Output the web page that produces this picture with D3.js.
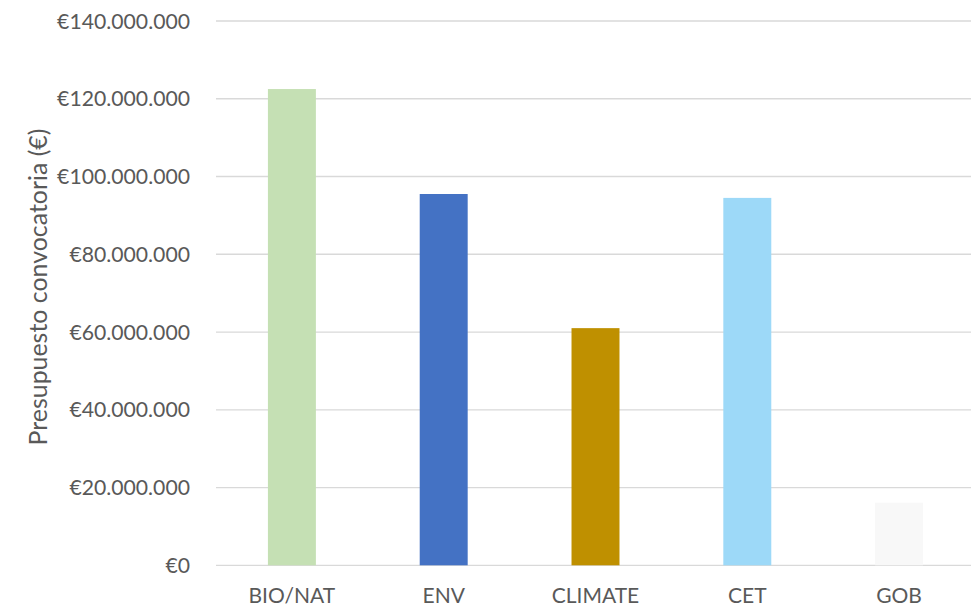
<!DOCTYPE html>
<html><head><meta charset="utf-8">
<script src="https://cdn.jsdelivr.net/npm/d3@7/dist/d3.min.js"></script>
<style>body{margin:0;background:#fff}svg{display:block}</style>
</head><body>
<svg id="c" width="971" height="608"></svg>
<script>
const categories = ["BIO/NAT","ENV","CLIMATE","CET","GOB"];
const values = [122500000, 95500000, 61000000, 94500000, 16100000];
const colors = ["#c5e0b4","#4472c4","#bf9000","#9dd9f8","#f8f8f8"];
const yTicks = [0,20000000,40000000,60000000,80000000,100000000,120000000,140000000];
const yTitle = "Presupuesto convocatoria (€)";

const svg = d3.select("#c");
const mLeft = 216, mRight = 975, mTop = 21, mBottom = 565.3;
const font = "Lato, 'Noto Sans', sans-serif";
const x = d3.scaleBand().domain(categories).range([mLeft, mRight]).paddingInner(0.684).paddingOuter(0.342);
const y = d3.scaleLinear().domain([0,140000000]).range([mBottom, mTop]);
const fmt = v => "€" + d3.format(",")(v).replace(/,/g,".");

svg.append("g").selectAll("line").data(yTicks).join("line")
  .attr("x1", mLeft).attr("x2", 971).attr("y1", d=>y(d)).attr("y2", d=>y(d))
  .attr("stroke","#d9d9d9").attr("stroke-width",1.3);

svg.append("g").selectAll("rect").data(categories).join("rect")
  .attr("x", d=>x(d)).attr("width", x.bandwidth())
  .attr("y", (d,i)=>y(values[i])).attr("height",(d,i)=>mBottom - y(values[i]))
  .attr("fill",(d,i)=>colors[i]);

svg.append("g").selectAll("text").data(yTicks).join("text")
  .attr("x", 190).attr("y", d=>y(d)).attr("dy","0.36em")
  .attr("text-anchor","end").attr("fill","#595959")
  .style("font-family",font).style("font-size","21.2px").text(fmt);

svg.append("g").selectAll("text").data(categories).join("text")
  .attr("x", d=>x(d)+x.bandwidth()/2).attr("y", 603)
  .attr("text-anchor","middle").attr("fill","#595959")
  .style("font-family",font).style("font-size","21px").text(d=>d);

const t = svg.append("text").attr("transform","translate(47,287) rotate(-90)")
  .attr("text-anchor","middle").attr("fill","#595959")
  .style("font-family",font).style("font-size","20px").text(yTitle);
const len = t.node().getComputedTextLength();
t.style("font-size", (20 * 317 / len) + "px");
</script>
</body></html>
